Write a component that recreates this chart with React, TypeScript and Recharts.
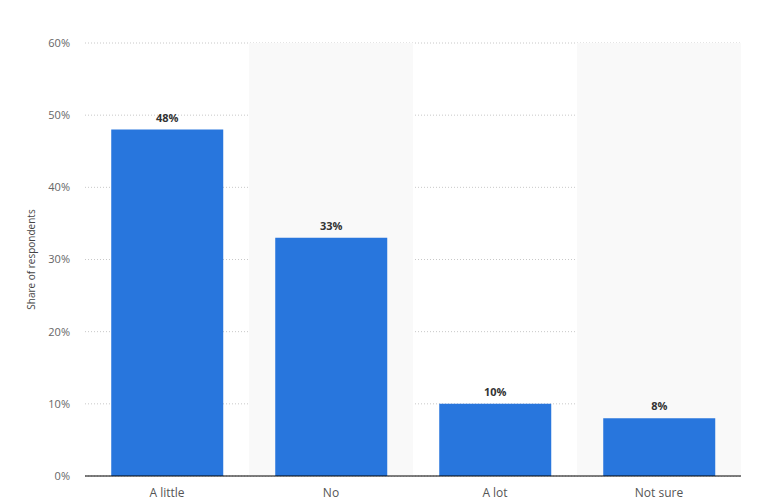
import { BarChart, Bar, XAxis, YAxis, CartesianGrid, ReferenceArea, LabelList } from "recharts";

const categories = ["A little", "No", "A lot", "Not sure"];
const shares = [48, 33, 10, 8];
const yTicks = [0, 10, 20, 30, 40, 50, 60];
const shadedCategories = ["No", "Not sure"];

const data = categories.map((name, i) => ({ name, value: shares[i] }));

const font = "'Open Sans', sans-serif";

export default function App() {
  return (
    <div style={{ position: "absolute", left: 0, top: 0, background: "#fff" }}>
      <BarChart
        width={776}
        height={503}
        data={data}
        margin={{ top: 43, right: 35, bottom: 0, left: 0 }}
        barCategoryGap="16%"
      >
        {shadedCategories.map((c) => (
          <ReferenceArea key={c} x1={c} x2={c} fill="#f9f9f9" fillOpacity={1} stroke="none" ifOverflow="visible" />
        ))}
        <CartesianGrid vertical={false} stroke="#c8c8c8" strokeDasharray="1 2" />
        <XAxis
          dataKey="name"
          height={27}
          tickLine={false}
          tickSize={0}
          tickMargin={12}
          axisLine={{ stroke: "#000", strokeWidth: 1 }}
          tick={{ fill: "#555", fontSize: 12, fontFamily: font }}
        />
        <YAxis
          width={85}
          domain={[0, 60]}
          ticks={yTicks}
          tickFormatter={(v) => `${v}%`}
          axisLine={false}
          tickLine={false}
          tickSize={0}
          tickMargin={15}
          tick={{ fill: "#666", fontSize: 11, fontFamily: font }}
          label={{
            value: "Share of respondents",
            angle: -90,
            position: "insideLeft",
            offset: 31,
            style: { fill: "#444", fontSize: 10, fontFamily: font, textAnchor: "middle" },
          }}
        />
        <Bar dataKey="value" fill="#2876dd" isAnimationActive={false}>
          <LabelList
            dataKey="value"
            position="top"
            offset={8}
            formatter={(v) => `${v}%`}
            style={{ fill: "#333", fontSize: 11, fontWeight: 700, fontFamily: font }}
          />
        </Bar>
      </BarChart>
    </div>
  );
}
